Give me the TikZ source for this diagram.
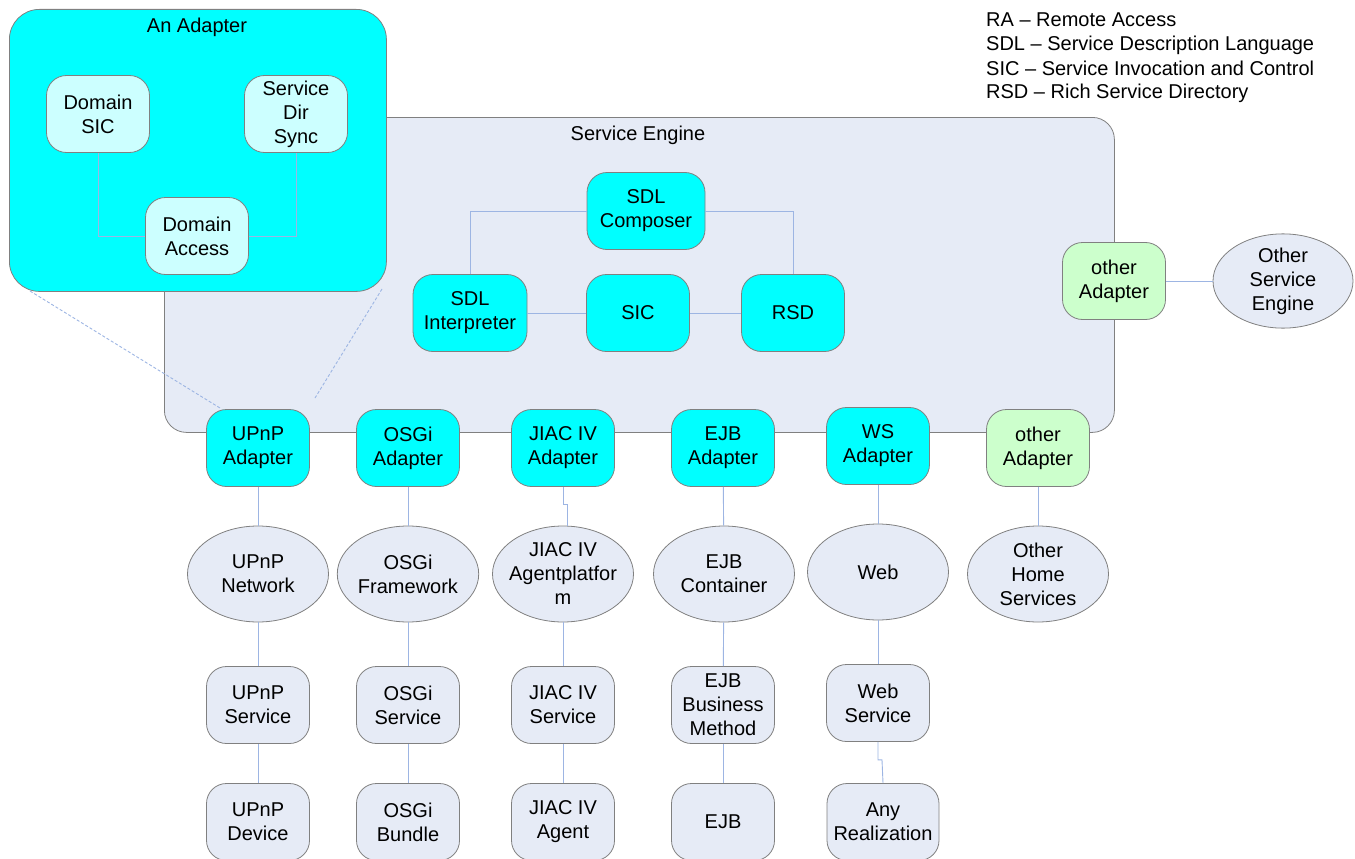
\documentclass[tikz,border=0pt]{standalone}
\usepackage{fontspec}
\setmainfont{Liberation Sans}
\usetikzlibrary{shapes.geometric}
\definecolor{cyanf}{HTML}{00FFFF}
\definecolor{lcyan}{HTML}{CCFFFF}
\definecolor{paleb}{HTML}{E6EBF6}
\definecolor{greenf}{HTML}{CCFFCC}
\definecolor{bord}{HTML}{808080}
\definecolor{connc}{HTML}{9DB5E3}
\begin{document}
\begin{tikzpicture}[x=1pt,y=-1pt,
  font=\fontsize{20}{24}\selectfont,
  every node/.style={align=center, inner sep=1pt},
  rbox/.style={draw=bord, line width=0.8pt, rounded corners=20pt, minimum width=103pt, minimum height=77pt},
  cbox/.style={rbox, fill=cyanf},
  lbox/.style={rbox, fill=lcyan},
  gbox/.style={rbox, fill=greenf},
  pbox/.style={rbox, fill=paleb},
  ell/.style={ellipse, draw=bord, line width=0.8pt, fill=paleb, minimum width=141pt, minimum height=96pt, inner sep=0pt},
  conn/.style={draw=connc, line width=0.9pt},
  dashconn/.style={draw=connc, line width=0.9pt, dash pattern=on 3pt off 2pt},
  legend/.style={anchor=base west, align=left}
]
\useasboundingbox (0,0) rectangle (1355,859);

% Service engine container
\node[draw=bord, line width=0.8pt, fill=paleb, rounded corners=22pt, minimum width=950pt, minimum height=315pt, anchor=north west] (se) at (164,117) {};
\node (setitle) at (638,135) {Service Engine};

% An Adapter container
\node[draw=bord, line width=0.8pt, fill=cyanf, rounded corners=30pt, minimum width=377pt, minimum height=282pt, anchor=north west] (ad) at (9,9) {};
\node (adtitle) at (197,27) {An Adapter};
\coordinate (adbl) at (30,291);
\coordinate (adbr) at (382,289);

\node[lbox] (dsic) at (98,114) {Domain\\SIC};
\node[lbox] (sds) at (296,114) {Service\\Dir\\Sync};
\node[lbox] (dacc) at (197,236) {Domain\\Access};
\draw[conn] (dsic.south) |- (dacc.west);
\draw[conn] (sds.south) |- (dacc.east);

% Engine internals
\node[cbox, minimum width=118pt] (comp) at (646,211) {SDL\\Composer};
\node[cbox, minimum width=114pt] (interp) at (470,313) {SDL\\Interpreter};
\node[cbox] (sic) at (638,313) {SIC};
\node[cbox] (rsd) at (793,313) {RSD};
\draw[conn] (comp.west) -| (interp.north);
\draw[conn] (comp.east) -| (rsd.north);
\draw[conn] (interp) -- (sic);
\draw[conn] (sic) -- (rsd);

% other adapter right
\node[gbox] (oad1) at (1114,281) {other\\Adapter};
\node[ell, minimum width=140pt, minimum height=92pt] (ose) at (1283,281) {Other\\Service\\Engine};
\draw[conn] (oad1.east) -- (ose.west);

% Adapter row
\node[cbox] (upA) at (258,448) {UPnP\\Adapter};
\node[cbox] (osA) at (408,448) {OSGi\\Adapter};
\node[cbox] (jiA) at (563,448) {JIAC IV\\Adapter};
\node[cbox] (ejA) at (723,448) {EJB\\Adapter};
\node[cbox] (wsA) at (878,446) {WS\\Adapter};
\node[gbox] (otA) at (1038,448) {other\\Adapter};

% dashed zoom lines
\coordinate (upTL) at (220,408);
\coordinate (upTR) at (315,398);
\draw[dashconn] (adbl) -- (upTL);
\draw[dashconn] (adbr) -- (upTR);

% Ellipse row
\node[ell] (upN) at (258,574) {UPnP\\Network};
\node[ell] (osN) at (408,574) {OSGi\\Framework};
\node[ell] (jiN) at (563,574) {\makebox[0pt]{JIAC IV}\\\makebox[0pt]{Agentplatfor}\\\makebox[0pt]{m}};
\node[ell] (ejN) at (724,574) {EJB\\Container};
\node[ell] (wsN) at (878,572) {Web};
\node[ell] (otN) at (1038,574) {Other\\Home\\Services};

% Service row
\node[pbox] (upS) at (258,705) {UPnP\\Service};
\node[pbox] (osS) at (408,705) {OSGi\\Service};
\node[pbox] (jiS) at (563,705) {JIAC IV\\Service};
\node[pbox] (ejS) at (723,705) {EJB\\Business\\Method};
\node[pbox] (wsS) at (878,703) {Web\\Service};

% Bottom row
\node[pbox] (upD) at (258,822) {UPnP\\Device};
\node[pbox] (osD) at (408,822) {OSGi\\Bundle};
\node[pbox] (jiD) at (563,822) {JIAC IV\\Agent};
\node[pbox] (ejD) at (723,822) {EJB};
\node[pbox, minimum width=112pt] (wsD) at (883,822) {Any\\Realization};

% connectors
\draw[conn] (upA) -- (upN); \draw[conn] (upN) -- (upS); \draw[conn] (upS) -- (upD);
\draw[conn] (osA) -- (osN); \draw[conn] (osN) -- (osS); \draw[conn] (osS) -- (osD);
\draw[conn] (jiA.south) -- ++(0,18) -- ++(4,0) -- (jiN.north -| 567,0);
\draw[conn] (jiN) -- (jiS); \draw[conn] (jiS) -- (jiD);
\draw[conn] (ejA) -- (ejN); \draw[conn] (ejN) -- (ejS); \draw[conn] (ejS) -- (ejD);
\draw[conn] (wsA) -- (wsN); \draw[conn] (wsN) -- (wsS);
\draw[conn] (wsS.south) -- ++(0,18) -- ++(4,0) -- (wsD.north);
\draw[conn] (otA) -- (otN);

% legend
\node[legend] (l1) at (985,27) {RA – Remote Access};
\node[legend] (l2) at (985,51) {SDL – Service Description Language};
\node[legend] (l3) at (985,75) {SIC – Service Invocation and Control};
\node[legend] (l4) at (985,99) {RSD – Rich Service Directory};
\end{tikzpicture}
\end{document}
